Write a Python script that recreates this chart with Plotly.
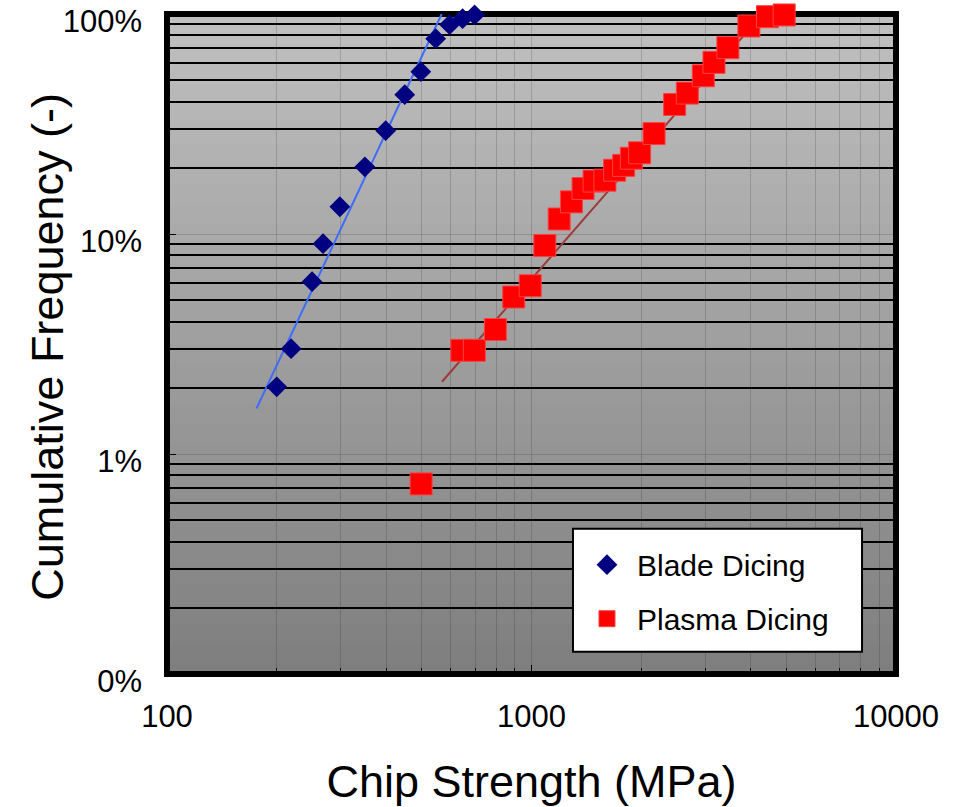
import plotly.graph_objects as go

# ---- data ----
blade_strength = [200, 219, 250, 268, 298, 349, 398, 449, 497, 546, 596, 647, 698]
blade_freq = [0.0202, 0.0301, 0.0607, 0.0904, 0.133, 0.202, 0.295, 0.430, 0.547, 0.772, 0.894, 0.952, 0.99]

plasma_strength = [498, 644, 697, 796, 894, 992, 1088, 1191, 1287, 1385, 1485, 1590, 1691,
                   1790, 1879, 1980, 2169, 2470, 2676, 2960, 3167, 3458, 3948, 4441, 4934]
plasma_freq = [0.00731, 0.0296, 0.0296, 0.0368, 0.0517, 0.0582, 0.0887, 0.117, 0.140, 0.161,
               0.174, 0.1756, 0.195, 0.205, 0.221, 0.234, 0.286, 0.388, 0.437, 0.524, 0.603,
               0.703, 0.882, 0.972, 0.99]

blade_fit_x = [176, 567]
blade_fit_y = [0.0161, 1.0]
plasma_fit_x = [568, 3890]
plasma_fit_y = [0.0213, 0.825]

x_tickvals = [100, 1000, 10000]
x_ticktext = ["100", "1000", "10000"]
y_tickvals = [0.001, 0.01, 0.1, 1]
y_ticktext = ["0%", "1%", "10%", "100%"]

x_minor = [k * 10 ** e for e in (2, 3) for k in range(2, 10)]
y_minor = [k * 10.0 ** e for e in (-3, -2, -1) for k in range(2, 10)]

FONT = "Liberation Sans, Arial, sans-serif"

fig = go.Figure()

fig.add_trace(go.Scatter(x=blade_fit_x, y=blade_fit_y, mode="lines",
                         line=dict(color="#3f6cff", width=2), showlegend=False,
                         hoverinfo="skip"))
fig.add_trace(go.Scatter(x=plasma_fit_x, y=plasma_fit_y, mode="lines",
                         line=dict(color="#9b3b3b", width=2), showlegend=False,
                         hoverinfo="skip"))
fig.add_trace(go.Scatter(x=blade_strength, y=blade_freq, mode="markers", name="Blade Dicing",
                         legendgroup="a",
                         marker=dict(symbol="diamond", size=16, color="#000080",
                                     line=dict(width=0)), cliponaxis=False))
fig.add_trace(go.Scatter(x=plasma_strength, y=plasma_freq, mode="markers", name="Plasma Dicing",
                         legendgroup="b",
                         marker=dict(symbol="square", size=22, color="#ff0000",
                                     line=dict(width=1, color="#ff4040")), cliponaxis=False))

shapes = []
N = 66
top = (192, 192, 192)
bot = (126, 126, 126)
for i in range(N):
    t = (i + 0.5) / N
    c = tuple(int(round(bot[j] + (top[j] - bot[j]) * t)) for j in range(3))
    shapes.append(dict(type="rect", xref="x domain", yref="y domain",
                       x0=0, x1=1, y0=i / N, y1=(i + 1) / N,
                       fillcolor="rgb(%d,%d,%d)" % c, line=dict(width=0), layer="below"))
# frame
shapes.append(dict(type="rect", xref="x domain", yref="y domain", x0=0, x1=1, y0=0, y1=1,
                   line=dict(color="black", width=6), fillcolor="rgba(0,0,0,0)", layer="below"))
# legend box
shapes.append(dict(type="rect", xref="x domain", yref="y domain",
                   x0=0.5569, x1=0.9534, y0=0.0338, y1=0.2202,
                   line=dict(color="black", width=2), fillcolor="white", layer="above"))
fig.update_layout(shapes=shapes)

fig.add_annotation(text="Cumulative Frequency (-)", textangle=-90, showarrow=False,
                   xref="paper", yref="paper", x=-0.165, y=0.5, yshift=-3,
                   xanchor="center", yanchor="middle", font=dict(size=45, family=FONT))

fig.update_layout(
    width=976, height=807,
    margin=dict(l=167, r=80, t=14, b=133, autoexpand=False),
    paper_bgcolor="white", plot_bgcolor="rgba(0,0,0,0)",
    font=dict(family=FONT, color="black"),
    legend=dict(x=0.5624, y=0.205, xanchor="left", yanchor="top",
                bgcolor="rgba(0,0,0,0)", borderwidth=0, itemwidth=50,
                tracegroupgap=12, font=dict(size=30, family=FONT)),
    xaxis=dict(type="log", range=[2, 4], tickvals=x_tickvals, ticktext=x_ticktext,
               tickfont=dict(size=31), ticks="inside", ticklen=9, tickcolor="black",
               showgrid=True, gridcolor="rgba(0,0,0,0.15)", gridwidth=1,
               showline=False, zeroline=False, ticklabelstandoff=21, automargin=False,
               ticklabeloverflow="allow",
               minor=dict(tickvals=x_minor, showgrid=True, gridcolor="rgba(0,0,0,0.15)",
                          gridwidth=1, ticks="inside", ticklen=6, tickcolor="black"),
               title=dict(text="Chip Strength (MPa)", font=dict(size=45), standoff=35)),
    yaxis=dict(type="log", range=[-3, 0], tickvals=y_tickvals, ticktext=y_ticktext,
               tickfont=dict(size=31), ticks="inside", ticklen=9, tickcolor="black",
               showgrid=True, gridcolor="rgba(0,0,0,0.15)", gridwidth=1,
               showline=False, zeroline=False, ticklabelstandoff=24, automargin=False,
               ticklabelshift=7, ticklabeloverflow="allow",
               minor=dict(tickvals=y_minor, showgrid=True, gridcolor="black",
                          gridwidth=1.5, ticks="")),
)

# remove the page's default 8px body margin so the figure fills the window exactly
fig.write_html("out.html", config={"displayModeBar": False},
               post_script="document.body.style.margin='0';")
